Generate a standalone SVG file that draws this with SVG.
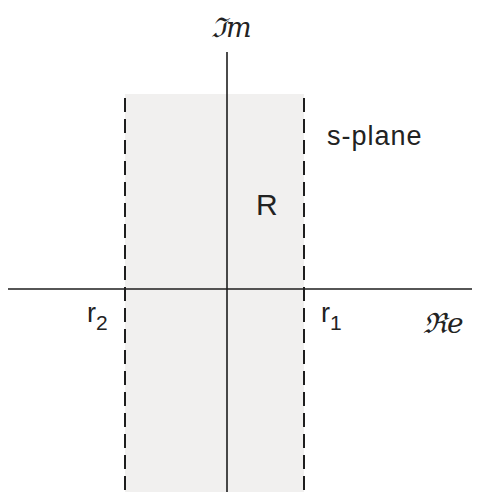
<svg xmlns="http://www.w3.org/2000/svg" width="478" height="492" viewBox="0 0 478 492">
<style>
.axis{stroke:#1e1e1e;stroke-width:1.6;fill:none}
.dash{stroke:#1e1e1e;stroke-width:2;stroke-dasharray:14 7;fill:none}
.lbl{font-family:"Liberation Sans",Arial,sans-serif;fill:#222}
.scr{font-family:"DejaVu Serif","Liberation Serif",serif;font-style:italic;fill:#222}
</style>
<rect width="478" height="492" fill="#ffffff"/>
<g id="region">
<rect x="125" y="94" width="179" height="398" fill="#f1f0ef"/>
</g>
<g id="connectors">
<line class="axis" x1="8" y1="289" x2="472" y2="289"/>
<line class="axis" x1="227" y1="52" x2="227" y2="492"/>
<line class="dash" x1="125" y1="98" x2="125" y2="492"/>
<line class="dash" x1="304" y1="98" x2="304" y2="492"/>
</g>
<g id="labels">
<text class="scr" x="211" y="37" font-size="27">ℑm</text>
<text class="scr" x="423" y="333" font-size="28">ℜe</text>
<text class="lbl" x="327" y="145" font-size="27" letter-spacing="1">s-plane</text>
<text class="lbl" x="256" y="215" font-size="30">R</text>
<text class="lbl" x="87" y="322" font-size="27">r<tspan font-size="21" dy="8">2</tspan></text>
<text class="lbl" x="321" y="322" font-size="27">r<tspan font-size="21" dy="8">1</tspan></text>
</g>
</svg>
